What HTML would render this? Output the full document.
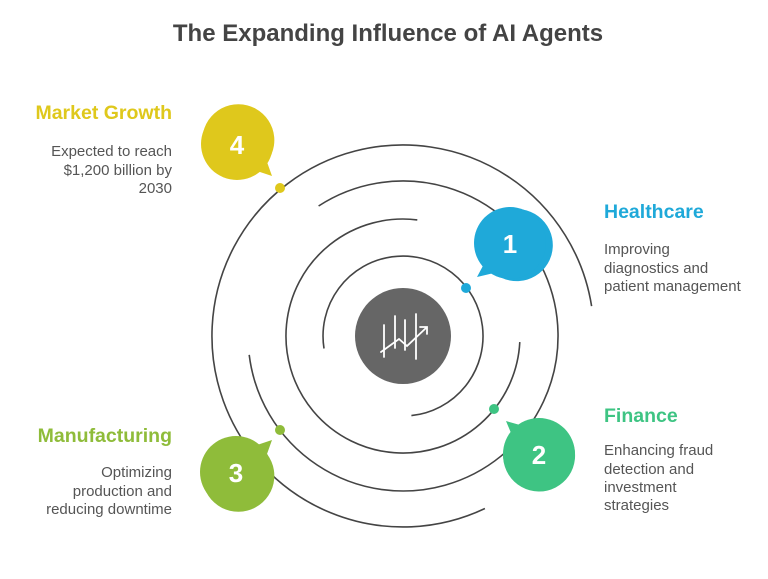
<!DOCTYPE html>
<html><head><meta charset="utf-8"><style>
html,body{margin:0;padding:0;background:#fff}
body{width:768px;height:574px;overflow:hidden;font-family:"Liberation Sans",sans-serif}
</style></head><body>
<svg id="s" width="768" height="574" viewBox="0 0 768 574" xmlns="http://www.w3.org/2000/svg" font-family="Liberation Sans, sans-serif">
<text x="388" y="41" text-anchor="middle" font-size="24" font-weight="bold" fill="#444">The Expanding Influence of AI Agents</text>
<g id="arcs" fill="none" stroke="#444" stroke-width="1.6"></g>
<circle cx="403" cy="336" r="48" fill="#666"/>
<g stroke="#fff" stroke-width="1.8" fill="none" stroke-linecap="round">
<line x1="384" y1="325" x2="384" y2="357"/><line x1="395" y1="316" x2="395" y2="348"/>
<line x1="405" y1="320" x2="405" y2="350"/><line x1="416" y1="314" x2="416" y2="359"/>
<polyline points="381,352 399,339 407,346 426,328"/><polyline points="420,327 427,327 427,334"/>
</g>
<g font-size="26" font-weight="bold" fill="#fff" text-anchor="middle">
<path d="M477,277 L485,262 A36,36 0 1 1 494,273 Z" fill="#1fa9d9"/>
<circle cx="510" cy="243" r="36" fill="#1fa9d9"/><text x="510" y="253">1</text>
<path d="M506,421 L520,425 A36,36 0 1 1 511,433 Z" fill="#3ec483"/>
<circle cx="539" cy="454" r="36" fill="#3ec483"/><text x="539" y="464">2</text>
<path d="M272,440 L267,454 A36,36 0 1 1 257,445 Z" fill="#8fbc3a"/>
<circle cx="236" cy="472" r="36" fill="#8fbc3a"/><text x="236" y="482">3</text>
<path d="M272,176 L257,171 A36,36 0 1 1 267,162 Z" fill="#dfc81c"/>
<circle cx="237" cy="144" r="36" fill="#dfc81c"/><text x="237" y="154">4</text>
</g>
<circle cx="466" cy="288" r="5" fill="#1fa9d9"/>
<circle cx="494" cy="409" r="5" fill="#3ec483"/>
<circle cx="280" cy="430" r="5" fill="#8fbc3a"/>
<circle cx="280" cy="188" r="5" fill="#dfc81c"/>
<g font-size="19.5" font-weight="bold">
<text x="172" y="119" text-anchor="end" fill="#dfc81c">Market Growth</text>
<text x="172" y="442" text-anchor="end" fill="#8fbc3a">Manufacturing</text>
<text x="604" y="218" fill="#1fa9d9">Healthcare</text>
<text x="604" y="422" fill="#3ec483">Finance</text>
</g>
<g font-size="15" fill="#555">
<text x="172" y="156" text-anchor="end">Expected to reach</text>
<text x="172" y="175" text-anchor="end">$1,200 billion by</text>
<text x="172" y="193" text-anchor="end">2030</text>
<text x="172" y="477" text-anchor="end">Optimizing</text>
<text x="172" y="496" text-anchor="end">production and</text>
<text x="172" y="514" text-anchor="end">reducing downtime</text>
<text x="604" y="254">Improving</text>
<text x="604" y="273">diagnostics and</text>
<text x="604" y="291">patient management</text>
<text x="604" y="455">Enhancing fraud</text>
<text x="604" y="474">detection and</text>
<text x="604" y="492">investment</text>
<text x="604" y="510">strategies</text>
</g>
</svg>
<script>
var cx=403,cy=336,g=document.getElementById('arcs');
function arc(r,a1,a2){var p=function(a){a=a*Math.PI/180;return (cx+r*Math.cos(a)).toFixed(1)+','+(cy+r*Math.sin(a)).toFixed(1)};
var large=(a2-a1)>180?1:0;var e=document.createElementNS('http://www.w3.org/2000/svg','path');
e.setAttribute('d','M'+p(a1)+' A'+r+','+r+' 0 '+large+' 1 '+p(a2));g.appendChild(e);}
arc(80,171,444);arc(117,3,277);arc(155,237,533);arc(191,64.6,351);
</script>
</body></html>
